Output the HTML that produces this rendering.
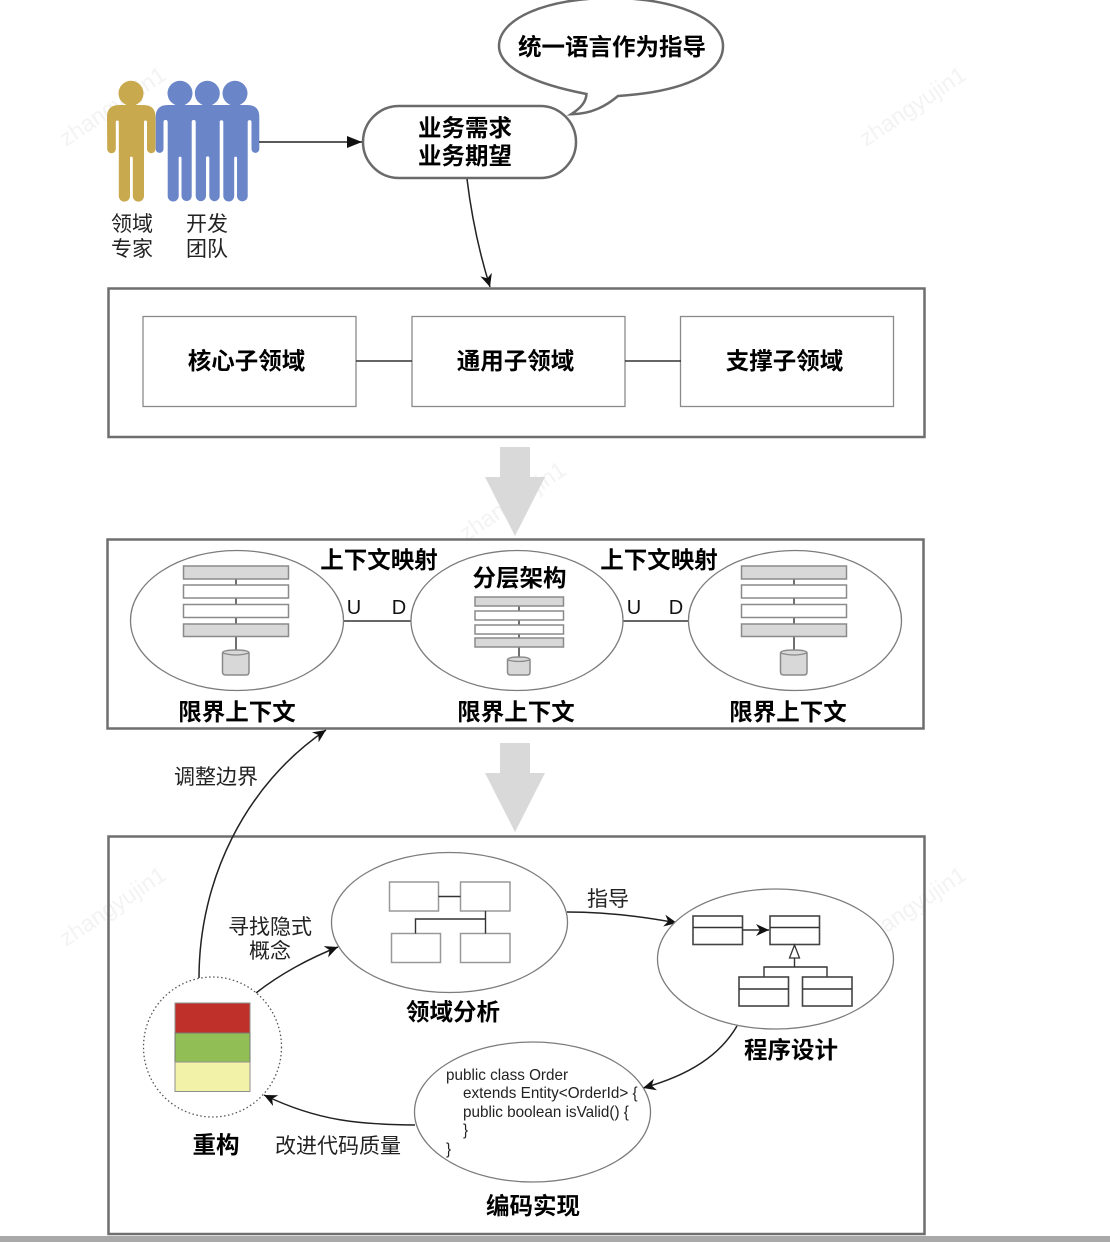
<!DOCTYPE html>
<html><head><meta charset="utf-8"><style>
html,body{margin:0;padding:0;background:#fff}
svg{display:block}
text{font-family:"Liberation Sans","Noto Sans CJK SC",sans-serif;fill:#111}
.b{font-size:23.5px;font-weight:bold;text-anchor:middle;fill:#000}
.r{font-size:21px;text-anchor:middle;fill:#222}
.c{font-size:15.25px;fill:#222}
.w{font-size:23px;fill:#f3f3f3}
.box{fill:none;stroke:#6e6e6e;stroke-width:2.5}
.sub{fill:#fff;stroke:#8a8a8a;stroke-width:1.3}
.el{fill:#fff;stroke:#7c7c7c;stroke-width:1.3}
.g{fill:#d8d8d8;stroke:#8a8a8a;stroke-width:1.5}
.h{fill:#fff;stroke:#8a8a8a;stroke-width:1.5}
.ln{stroke:#333;stroke-width:1.4;fill:none}
.cv{stroke:#222;stroke-width:1.5;fill:none}
.um{fill:#fff;stroke:#444;stroke-width:1.6}
.dm{fill:#fff;stroke:#999;stroke-width:1.5}
</style></head><body>
<svg width="1110" height="1242" viewBox="0 0 1110 1242" xmlns="http://www.w3.org/2000/svg">
<defs>
<marker id="a" markerWidth="14" markerHeight="12" refX="13" refY="6" orient="auto" markerUnits="userSpaceOnUse"><path d="M0,0 L13,6 L0,12 L4,6 Z" fill="#111"/></marker>
<marker id="t" markerWidth="16" markerHeight="14" refX="15" refY="7" orient="auto" markerUnits="userSpaceOnUse"><path d="M0,1 L15,7 L0,13 Z" fill="#111"/></marker>
</defs>

<text class="w" transform="translate(66,147) rotate(-34)">zhangyujin1</text>
<text class="w" transform="translate(866,147) rotate(-34)">zhangyujin1</text>
<text class="w" transform="translate(466,542) rotate(-34)">zhangyujin1</text>
<text class="w" transform="translate(66,947) rotate(-34)">zhangyujin1</text>
<text class="w" transform="translate(866,947) rotate(-34)">zhangyujin1</text>

<!-- people -->
<circle cx="131" cy="93.300" r="12.500" fill="#C9A94E"/>
<path d="M107,117 Q107,105 119,105 H143.500 Q155.500,105 155.500,117 V149 A4.250,4.250 0 0 1 147,149 V122 A1.500,1.500 0 0 0 144,122 V196 A5.600,5.600 0 0 1 132.800,196 V158 A1.400,1.400 0 0 0 130,158 V196 A5.600,5.600 0 0 1 118.800,196 V122 A1.500,1.500 0 0 0 115.800,122 V149 A4.300,4.300 0 0 1 107.200,149 Z" fill="#C9A94E"/>
<circle cx="180" cy="93.300" r="12.500" fill="#6B85C9"/>
<circle cx="207.300" cy="93.300" r="12.500" fill="#6B85C9"/>
<circle cx="235" cy="93.300" r="12.500" fill="#6B85C9"/>
<path d="M155.700,117 Q155.700,105 167.700,105 H247.300 Q259.300,105 259.300,117 V149 A3.900,3.900 0 0 1 251.500,149 V122 A1.900,1.900 0 0 0 247.700,122 V196 A5.350,5.350 0 0 1 237,196 V158 A1.400,1.400 0 0 0 234.200,158 V196 A5.450,5.450 0 0 1 223.300,196 V122 A1.800,1.800 0 0 0 219.700,122 V196 A5.200,5.200 0 0 1 209.300,196 V158 A1.650,1.650 0 0 0 206,158 V196 A5.150,5.150 0 0 1 195.700,196 V122 A2,2 0 0 0 191.700,122 V196 A5.100,5.100 0 0 1 181.500,196 V158 A1.400,1.400 0 0 0 178.700,158 V196 A5.500,5.500 0 0 1 167.700,196 V122 A2.100,2.100 0 0 0 163.500,122 V149 A3.900,3.900 0 0 1 155.700,149 Z" fill="#6B85C9"/>
<text class="r" x="132" y="231">领域</text>
<text class="r" x="132" y="256">专家</text>
<text class="r" x="207" y="231">开发</text>
<text class="r" x="207" y="256">团队</text>

<!-- bubble -->
<path d="M586.500,94 C535,84 499,68 499,46 C499,18 548,-2 611,-2 C674,-2 723,18 723,46 C723,75 680,92 618,96 C606,106 592,114 571,114.300 C581,108 586,102 586.500,94 Z" fill="#fff" stroke="#6a6a6a" stroke-width="2.500"/>
<text class="b" x="612" y="55">统一语言作为指导</text>

<!-- requirement -->
<rect x="363" y="106" width="213" height="72" rx="36" ry="36" fill="#fff" stroke="#6a6a6a" stroke-width="2.500"/>
<text class="b" x="465" y="136">业务需求</text>
<text class="b" x="465" y="164">业务期望</text>
<line x1="259" y1="142" x2="362" y2="142" stroke="#222" stroke-width="1.500" marker-end="url(#t)"/>
<path class="cv" d="M467,179 C472,220 480,255 490,287" marker-end="url(#a)"/>

<!-- subdomains -->
<rect class="box" x="108.500" y="288.500" width="816" height="148.500"/>
<rect class="sub" x="143" y="316.500" width="213" height="90"/>
<rect class="sub" x="412" y="316.500" width="213" height="90"/>
<rect class="sub" x="680.500" y="316.500" width="213" height="90"/>
<line class="ln" x1="356" y1="361" x2="412" y2="361"/>
<line class="ln" x1="625" y1="361" x2="681" y2="361"/>
<text class="b" x="246.500" y="369">核心子领域</text>
<text class="b" x="515.500" y="369">通用子领域</text>
<text class="b" x="784.500" y="369">支撑子领域</text>

<!-- big arrows -->
<path d="M500,447 H530 V477 H545 L515,536 L485,477 H500 Z" fill="#d9d9d9"/>
<path d="M500,743 H530 V773 H545 L515,832 L485,773 H500 Z" fill="#d9d9d9"/>

<!-- bounded contexts -->
<rect class="box" x="107.500" y="539.500" width="816" height="189"/>
<line class="ln" x1="343" y1="621" x2="411" y2="621"/>
<line class="ln" x1="622" y1="621" x2="689" y2="621"/>
<ellipse class="el" cx="237" cy="620.500" rx="106.500" ry="70"/>
<ellipse class="el" cx="517" cy="620.500" rx="106" ry="70"/>
<ellipse class="el" cx="795" cy="620.500" rx="106.500" ry="70"/>

<line class="ln" x1="236" y1="579" x2="236" y2="651"/>
<rect class="g" x="183.500" y="566" width="105" height="13"/>
<rect class="h" x="183.500" y="585" width="105" height="13"/>
<rect class="h" x="183.500" y="604.500" width="105" height="13"/>
<rect class="g" x="183.500" y="624" width="105" height="12.500"/>
<path class="g" d="M222.500,653 V672 Q222.500,675 226,675 H246 Q249,675 249,672 V653 Q249,650 236,650 Q222.500,650 222.500,653 Z"/>
<path d="M222.500,653 Q236,657 249,653" fill="none" stroke="#8a8a8a" stroke-width="1.200"/>

<line class="ln" x1="519" y1="606" x2="519" y2="658"/>
<rect class="g" x="475" y="597" width="88.500" height="9"/>
<rect class="h" x="475" y="611" width="88.500" height="9"/>
<rect class="h" x="475" y="625" width="88.500" height="9"/>
<rect class="g" x="475" y="638" width="88.500" height="9"/>
<path class="g" d="M507.500,660 V672 Q507.500,675 511,675 H527 Q530,675 530,672 V660 Q530,657 519,657 Q507.500,657 507.500,660 Z"/>
<path d="M507.500,660 Q519,663 530,660" fill="none" stroke="#8a8a8a" stroke-width="1.200"/>

<line class="ln" x1="794" y1="579" x2="794" y2="651"/>
<rect class="g" x="741.500" y="566" width="105" height="13"/>
<rect class="h" x="741.500" y="585" width="105" height="13"/>
<rect class="h" x="741.500" y="604.500" width="105" height="13"/>
<rect class="g" x="741.500" y="624" width="105" height="12.500"/>
<path class="g" d="M780.500,653 V672 Q780.500,675 784,675 H804 Q807,675 807,672 V653 Q807,650 794,650 Q780.500,650 780.500,653 Z"/>
<path d="M780.500,653 Q794,657 807,653" fill="none" stroke="#8a8a8a" stroke-width="1.200"/>

<text class="b" x="379" y="568">上下文映射</text>
<text class="b" x="659" y="568">上下文映射</text>
<text class="b" x="519.500" y="586">分层架构</text>
<text class="b" x="237" y="720">限界上下文</text>
<text class="b" x="516" y="720">限界上下文</text>
<text class="b" x="788" y="720">限界上下文</text>
<text x="354" y="614" style="font-size:20px;text-anchor:middle">U</text>
<text x="399" y="614" style="font-size:20px;text-anchor:middle">D</text>
<text x="634" y="614" style="font-size:20px;text-anchor:middle">U</text>
<text x="676" y="614" style="font-size:20px;text-anchor:middle">D</text>

<!-- bottom box -->
<rect class="box" x="108.500" y="836.500" width="816" height="397.500"/>
<rect x="0" y="1236" width="1110" height="6" fill="#a9a9a9"/>

<path class="cv" d="M199,978 C199,880 245,785 326,730" marker-end="url(#a)"/>
<text class="r" x="216" y="784">调整边界</text>
<text class="r" x="270" y="934">寻找隐式</text>
<text class="r" x="270" y="958">概念</text>
<path class="cv" d="M256,993 C280,974 310,958 338,947" marker-end="url(#a)"/>

<ellipse class="el" cx="449.500" cy="922.500" rx="118" ry="70"/>
<rect class="dm" x="389.500" y="882" width="49" height="29"/>
<rect class="dm" x="460.500" y="882" width="49.500" height="29"/>
<rect class="dm" x="391.500" y="933.500" width="49" height="29"/>
<rect class="dm" x="460.500" y="933.500" width="49.500" height="29"/>
<path class="ln" d="M438.500,896.500 H460.500 M485.500,911 V933.500 M415.500,933.500 V919 H485.500"/>
<text class="b" x="453" y="1020">领域分析</text>

<path class="cv" d="M567,912 C600,912 640,916 677,923" marker-end="url(#a)"/>
<text class="r" x="608" y="906">指导</text>

<ellipse class="el" cx="775.500" cy="959" rx="118" ry="70"/>
<rect class="um" x="693" y="916" width="49.500" height="28.500"/>
<line class="ln" x1="693" y1="927.500" x2="742.500" y2="927.500" style="stroke-width:1.600"/>
<rect class="um" x="770" y="916" width="49.500" height="28.500"/>
<line class="ln" x1="770" y1="927.500" x2="819.500" y2="927.500" style="stroke-width:1.600"/>
<line class="ln" x1="742.500" y1="930" x2="769" y2="930" marker-end="url(#a)"/>
<path class="ln" d="M794.500,958 V967 M764,977 V967 H827 V977"/>
<path d="M794.500,945 L799.500,958 H789.500 Z" fill="#fff" stroke="#333" stroke-width="1.300"/>
<rect class="um" x="739" y="977" width="49.500" height="29"/>
<line class="ln" x1="739" y1="989" x2="788.500" y2="989" style="stroke-width:1.600"/>
<rect class="um" x="802.500" y="977" width="49.500" height="29"/>
<line class="ln" x1="802.500" y1="989" x2="852" y2="989" style="stroke-width:1.600"/>
<text class="b" x="791" y="1058">程序设计</text>

<path class="cv" d="M737,1026 C720,1055 690,1075 643,1088" marker-end="url(#a)"/>

<ellipse class="el" cx="532.500" cy="1112" rx="118" ry="70"/>
<text class="c" x="446" y="1080">public class Order</text>
<text class="c" x="463" y="1098">extends Entity&lt;OrderId&gt; {</text>
<text class="c" x="463" y="1117">public boolean isValid() {</text>
<text class="c" x="463" y="1135">}</text>
<text class="c" x="446" y="1154">}</text>
<text class="b" x="533" y="1214">编码实现</text>

<path class="cv" d="M415,1125 C360,1124 320,1122 264,1095" marker-end="url(#a)"/>
<text class="r" x="338" y="1153">改进代码质量</text>

<ellipse cx="212.500" cy="1047" rx="69" ry="70" fill="#fff" stroke="#555" stroke-width="1.300" stroke-dasharray="1.500 2.500"/>
<rect x="175" y="1003" width="75" height="30" fill="#C0302A" stroke="#8f8f8f" stroke-width="1"/>
<rect x="175" y="1033" width="75" height="29" fill="#92BF55" stroke="#777" stroke-width="1"/>
<rect x="175" y="1062" width="75" height="29.500" fill="#F2F3A8" stroke="#8f8f8f" stroke-width="1"/>
<text class="b" x="216" y="1153">重构</text>
</svg>
</body></html>
